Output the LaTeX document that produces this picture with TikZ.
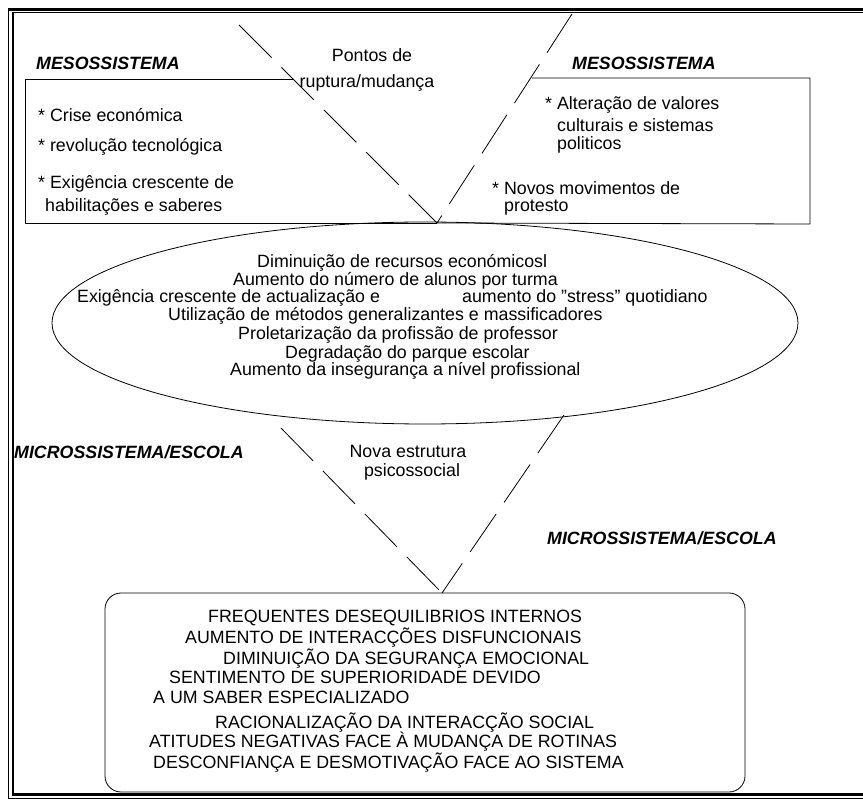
\documentclass[tikz,border=0pt]{standalone}
\usepackage{fontspec}
\setmainfont{Liberation Sans}
\usepackage{tikz}
\usetikzlibrary{positioning}

\begin{document}
\begin{tikzpicture}[x=1pt,y=-1pt,line join=bevel,
  txt/.style={anchor=west,inner sep=0pt,font=\fontsize{17.8}{20}\selectfont},
  ctxt/.style={inner sep=0pt,font=\fontsize{17.8}{20}\selectfont},
  hdr/.style={txt,font=\fontsize{17.8}{20}\selectfont\bfseries\itshape},
  dashline/.style={line width=0.8pt,dash pattern=on 46pt off 14pt},
  outline/.style={line width=0.8pt}]
\useasboundingbox (0,0) rectangle (863,799);
\clip (0,0) rectangle (863,799);
%% frame
\draw [line width=3pt] (8,9.5) -- (900,9.5);
\draw [line width=1pt] (13,12.8) -- (900,12.8);
\draw [line width=1pt] (8.5,8) -- (8.5,798.5);
\draw [line width=2.2pt] (13.2,12.3) -- (13.2,794.5);
\draw [line width=2.2pt] (12.1,794.5) -- (900,794.5);
\draw [line width=1pt] (8,798.3) -- (900,798.3);
%% ruptura lines
\coordinate (node_top_a) at (239,25);
\coordinate (node_top_b) at (572,14);
\coordinate (node_apex_top) at (437,223);
\coordinate (node_bot_a) at (281,428);
\coordinate (node_bot_b) at (564,415);
\coordinate (node_apex_bot) at (442,593);
\draw [dashline] (node_top_a) -- (node_apex_top);
\draw [dashline] (node_top_b) -- (node_apex_top);
\draw [dashline] (node_bot_a) -- (node_apex_bot);
\draw [dashline] (node_bot_b) -- (node_apex_bot);
%% mesossistema boxes
\draw [outline] (293,79) -- (25,79) -- (25,223) -- (node_apex_top);
\draw [outline] (532,78) -- (810,78) -- (810,224) -- (node_apex_top);
\node (node_pontos) at (372,55) [ctxt] {Pontos de};
\node (node_ruptura) at (367,83) [ctxt] {ruptura/mudança};
\node (node_meso_l) at (36,63) [hdr] {MESOSSISTEMA};
\node (node_meso_r) at (572,63) [hdr] {MESOSSISTEMA};
\node (node_l1) at (38,115) [txt] {* Crise económica};
\node (node_l2) at (38,147) [txt] {* revolução tecnológica};
\node (node_l3) at (38,184) [txt] {* Exigência crescente de};
\node (node_l4) at (45,207) [txt] {habilitações e saberes};
\node (node_r1) at (545,105) [txt] {* Alteração de valores};
\node (node_r2) at (557,125) [txt] {culturais e sistemas};
\node (node_r3) at (557,145) [txt] {politicos};
\node (node_r4) at (492,188) [txt] {* Novos movimentos de};
\node (node_r5) at (504,208) [txt] {protesto};
%% ellipse
\draw [outline] (425,323) ellipse [x radius=373, y radius=101];
\node (node_e1) at (257,263) [txt] {Diminuição de recursos económicosl};
\node (node_e2) at (233,281) [txt] {Aumento do número de alunos por turma};
\node (node_e3) at (77,298) [txt] {Exigência crescente de actualização e};
\node (node_e3b) at (462,298) [txt] {aumento do "stress" quotidiano};
\node (node_e4) at (168,316) [txt] {Utilização de métodos generalizantes e massificadores};
\node (node_e5) at (238,335) [txt] {Proletarização da profissão de professor};
\node (node_e6) at (285,354) [txt] {Degradação do parque escolar};
\node (node_e7) at (230,371) [txt] {Aumento da insegurança a nível profissional};
%% microssistema
\node (node_micro_l) at (14,452) [hdr] {MICROSSISTEMA/ESCOLA};
\node (node_micro_r) at (547,538) [hdr] {MICROSSISTEMA/ESCOLA};
\node (node_nova) at (408,451) [ctxt] {Nova estrutura};
\node (node_psico) at (412,472) [ctxt] {psicossocial};
%% bottom box
\draw [outline,rounded corners=16pt] (105,593) rectangle (745,792);
\node (node_b1) at (208,618) [txt] {FREQUENTES DESEQUILIBRIOS INTERNOS};
\node (node_b2) at (185,638) [txt] {AUMENTO DE INTERACÇÕES DISFUNCIONAIS};
\node (node_b3) at (223,659) [txt] {DIMINUIÇÃO DA SEGURANÇA EMOCIONAL};
\node (node_b4) at (169,677) [txt] {SENTIMENTO DE SUPERIORIDADE DEVIDO};
\node (node_b5) at (153,697) [txt] {A UM SABER ESPECIALIZADO};
\node (node_b6) at (215,723) [txt] {RACIONALIZAÇÃO DA INTERACÇÃO SOCIAL};
\node (node_b7) at (149,742) [txt] {ATITUDES NEGATIVAS FACE À MUDANÇA DE ROTINAS};
\node (node_b8) at (153,763) [txt] {DESCONFIANÇA E DESMOTIVAÇÃO FACE AO SISTEMA};
%
\end{tikzpicture}
\end{document}
